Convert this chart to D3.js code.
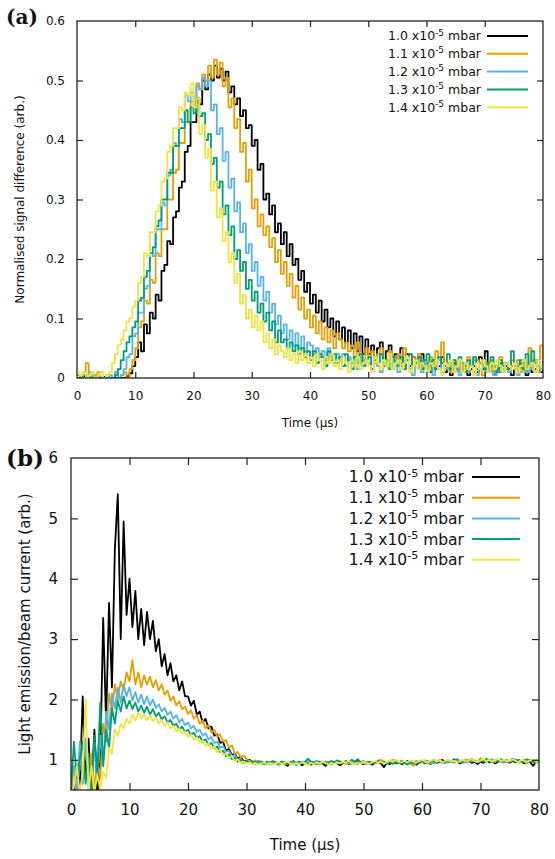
<!DOCTYPE html>
<meta charset="utf-8">
<style>
  body { margin: 0; background: #fff; }
  svg { display: block; }
  text { font-family: "DejaVu Sans", Verdana, sans-serif; fill: #111; }
  .frame { fill: none; stroke: #222; stroke-width: 1.3; }
  .tick line { stroke: #222; stroke-width: 1.2; }
  .panel-tag { font-family: "DejaVu Serif", "Liberation Serif", serif; font-weight: bold; }
</style>
<body>
<script src="https://d3js.org/d3.v7.min.js"></script>
<script>

// time axis (µs), sampled every 0.5 µs
const time = d3.range(0, 80.001, 0.5);

const labels = ["1.0", "1.1", "1.2", "1.3", "1.4"];
const colors = ["#000000", "#E69F00", "#56B4E9", "#009E73", "#F0E442"];

// ---- panel (a): normalised signal difference ----
const sigA10 = [
  0, 0, 0.003, 0, 0, 0.005, 0, 0, 0, 0.002,
  0, 0, 0, 0, -0.005, 0, 0, 0.003, 0.008, 0.02,
  0.035, 0.06, 0.045, 0.09, 0.075, 0.11, 0.1, 0.14, 0.13, 0.18,
  0.19, 0.23, 0.225, 0.27, 0.28, 0.32, 0.33, 0.38, 0.39, 0.43,
  0.43, 0.47, 0.46, 0.5, 0.485, 0.51, 0.5, 0.525, 0.505, 0.52,
  0.5, 0.515, 0.48, 0.49, 0.46, 0.47, 0.44, 0.45, 0.42, 0.425,
  0.39, 0.4, 0.35, 0.36, 0.3, 0.31, 0.275, 0.29, 0.245, 0.26,
  0.225, 0.245, 0.205, 0.225, 0.19, 0.2, 0.165, 0.18, 0.145, 0.16,
  0.125, 0.14, 0.11, 0.13, 0.095, 0.115, 0.085, 0.1, 0.07, 0.095,
  0.065, 0.085, 0.06, 0.08, 0.05, 0.075, 0.045, 0.07, 0.04, 0.065,
  0.04, 0.055, 0.035, 0.05, 0.06, 0.03, 0.045, 0.055, 0.035, 0.04,
  0.03, 0.05, 0.025, 0.04, 0.02, 0.035, 0.03, 0.015, 0.04, 0.02,
  0.025, 0.01, 0.03, 0.015, 0.02, 0.035, 0.01, 0.02, 0.005, 0.025,
  0.015, 0.01, 0.025, 0.02, 0.005, 0.015, 0.02, 0.01, 0.035, 0.015,
  0.045, 0.01, 0.02, 0.005, 0.015, 0.025, 0.01, 0.02, 0.015, 0.005,
  0.02, 0.01, 0.025, 0.015, 0.005, 0.02, 0.01, 0.015, 0.02, 0.01,
  0.015];
const sigA11 = [
  0.005, 0, 0.01, 0.025, 0, 0.005, 0, 0.01, 0, 0,
  0.005, 0, 0, 0.01, 0, 0.005, 0.01, 0, 0.015, 0.03,
  0.05, 0.085, 0.095, 0.13, 0.125, 0.165, 0.16, 0.21, 0.205, 0.25,
  0.25, 0.3, 0.3, 0.345, 0.35, 0.395, 0.395, 0.43, 0.43, 0.465,
  0.46, 0.495, 0.485, 0.51, 0.5, 0.525, 0.505, 0.535, 0.51, 0.53,
  0.49, 0.505, 0.455, 0.47, 0.42, 0.435, 0.38, 0.395, 0.33, 0.35,
  0.285, 0.3, 0.255, 0.275, 0.24, 0.255, 0.22, 0.235, 0.195, 0.215,
  0.175, 0.195, 0.155, 0.175, 0.135, 0.155, 0.115, 0.135, 0.1, 0.115,
  0.085, 0.105, 0.075, 0.095, 0.065, 0.085, 0.06, 0.08, 0.05, 0.075,
  0.065, 0.05, 0.06, 0.045, 0.055, 0.035, 0.06, 0.04, 0.03, 0.05,
  0.035, 0.045, 0.025, 0.04, 0.05, 0.03, 0.02, 0.045, 0.035, 0.025,
  0.04, 0.02, 0.05, 0.03, 0.015, 0.035, 0.025, 0.04, 0.02, 0.03,
  0.015, 0.035, 0.02, 0.045, 0.03, 0.06, 0.015, 0.025, 0.01, 0.03,
  0.02, 0.01, 0.025, 0.015, 0.035, 0.02, 0.01, 0.03, 0.015, 0.005,
  0.025, 0.015, 0.03, 0.01, 0.02, 0.035, 0.015, 0.025, 0.01, 0.03,
  0.02, 0.03, 0.01, 0.025, 0.015, 0.05, 0.02, 0.03, 0.01, 0.055,
  0.02];
const sigA12 = [
  0, 0.005, 0, 0, 0.01, 0, 0, 0.005, 0, 0,
  0, 0.005, 0, 0.01, 0, 0.005, 0.015, 0.035, 0.04, 0.07,
  0.075, 0.11, 0.11, 0.15, 0.155, 0.21, 0.205, 0.25, 0.25, 0.295,
  0.29, 0.34, 0.35, 0.395, 0.39, 0.435, 0.43, 0.475, 0.465, 0.48,
  0.47, 0.49, 0.485, 0.505, 0.49, 0.5, 0.45, 0.46, 0.41, 0.42,
  0.365, 0.38, 0.32, 0.335, 0.28, 0.295, 0.245, 0.26, 0.21, 0.225,
  0.18, 0.195, 0.155, 0.17, 0.13, 0.145, 0.11, 0.125, 0.09, 0.105,
  0.075, 0.09, 0.065, 0.08, 0.055, 0.075, 0.05, 0.07, 0.045, 0.06,
  0.055, 0.04, 0.05, 0.035, 0.045, 0.03, 0.05, 0.035, 0.025, 0.04,
  0.03, 0.04, 0.02, 0.035, 0.025, 0.03, 0.015, 0.035, 0.02, 0.03,
  0.025, 0.015, 0.035, 0.02, 0.01, 0.03, 0.02, 0.025, 0.015, 0.03,
  0.01, 0.025, 0.02, 0.03, 0.015, 0.005, 0.025, 0.02, 0.01, 0.03,
  0.015, 0.025, 0.005, 0.02, 0.03, 0.01, 0.02, 0.015, 0.025, 0.01,
  0.02, 0.005, 0.015, 0.025, 0.01, 0.02, 0.03, 0.005, 0.015, 0.02,
  0.01, 0.025, 0.015, 0.005, 0.02, 0.01, 0.025, 0.015, 0.01, 0.02,
  0.015, 0.005, 0.02, 0.025, 0.01, 0.015, 0.03, 0.01, 0.02, 0.015,
  0.02];
const sigA13 = [
  0, 0, 0.005, 0, 0, 0, 0.005, 0, 0, 0,
  0, 0, 0, 0.005, 0.015, 0.03, 0.045, 0.06, 0.07, 0.085,
  0.095, 0.13, 0.135, 0.17, 0.18, 0.21, 0.22, 0.255, 0.265, 0.3,
  0.3, 0.345, 0.345, 0.39, 0.39, 0.42, 0.42, 0.45, 0.43, 0.455,
  0.445, 0.465, 0.44, 0.445, 0.4, 0.41, 0.36, 0.37, 0.32, 0.33,
  0.275, 0.29, 0.24, 0.255, 0.2, 0.215, 0.18, 0.195, 0.15, 0.165,
  0.13, 0.145, 0.11, 0.125, 0.095, 0.11, 0.08, 0.095, 0.06, 0.08,
  0.06, 0.065, 0.05, 0.06, 0.045, 0.055, 0.04, 0.05, 0.035, 0.045,
  0.03, 0.045, 0.025, 0.04, 0.035, 0.02, 0.045, 0.03, 0.04, 0.025,
  0.035, 0.02, 0.04, 0.03, 0.015, 0.035, 0.025, 0.04, 0.02, 0.03,
  0.035, 0.015, 0.03, 0.025, 0.04, 0.02, 0.03, 0.015, 0.035, 0.025,
  0.02, 0.035, 0.015, 0.03, 0.04, 0.02, 0.025, 0.035, 0.015, 0.03,
  0.04, 0.02, 0.03, 0.015, 0.035, 0.025, 0.02, 0.04, 0.015, 0.03,
  0.02, 0.035, 0.025, 0.01, 0.03, 0.02, 0.035, 0.015, 0.025, 0.03,
  0.015, 0.025, 0.035, 0.02, 0.01, 0.03, 0.02, 0.025, 0.015, 0.045,
  0.025, 0.02, 0.03, 0.015, 0.04, 0.02, 0.045, 0.025, 0.03, 0.02,
  0.03];
const sigA14 = [
  0.01, 0.005, 0.01, 0, 0.005, 0.01, 0, 0.005, 0.01, 0,
  0.005, 0.01, 0.025, 0.04, 0.055, 0.065, 0.08, 0.095, 0.1, 0.12,
  0.13, 0.16, 0.17, 0.21, 0.205, 0.245, 0.245, 0.28, 0.29, 0.33,
  0.335, 0.38, 0.39, 0.42, 0.42, 0.455, 0.45, 0.48, 0.475, 0.495,
  0.455, 0.47, 0.41, 0.425, 0.37, 0.385, 0.315, 0.33, 0.27, 0.285,
  0.23, 0.245, 0.195, 0.21, 0.16, 0.175, 0.125, 0.14, 0.1, 0.115,
  0.085, 0.105, 0.08, 0.095, 0.06, 0.075, 0.05, 0.065, 0.04, 0.055,
  0.045, 0.035, 0.05, 0.03, 0.04, 0.025, 0.045, 0.03, 0.04, 0.025,
  0.035, 0.02, 0.04, 0.03, 0.015, 0.035, 0.025, 0.04, 0.02, 0.03,
  0.015, 0.035, 0.025, 0.01, 0.03, 0.02, 0.035, 0.015, 0.025, 0.03,
  0.02, 0.01, 0.035, 0.025, 0.015, 0.03, 0.02, 0.04, 0.015, 0.025,
  0.03, 0.015, 0.025, 0.035, 0.01, 0.02, 0.03, 0.015, 0.025, 0.02,
  0.01, 0.025, 0.02, 0.03, 0.015, 0.005, 0.025, 0.02, 0.03, 0.01,
  0.02, 0.03, 0.01, 0.025, 0.015, 0.02, 0.005, 0.025, 0.015, 0.03,
  0.02, 0.01, 0.025, 0.015, 0.03, 0.02, 0.01, 0.025, 0.02, 0.015,
  0.025, 0.01, 0.02, 0.03, 0.015, 0.02, 0.025, 0.01, 0.03, 0.02,
  0.015];

// ---- panel (b): light emission / beam current ----
const lightB10 = [
  0.3, 0.45, 0.9, 0.5, 2.05, 0.7, 1.35, 0.45, 1.5, 0.4,
  1.0, 3.35, 1.6, 3.6, 2.2, 4.5, 5.4, 3.0, 4.95, 3.4,
  4.0, 3.2, 3.8, 3.0, 3.5, 2.9, 3.45, 3.0, 3.3, 2.8,
  3.0, 2.55, 2.75, 2.4, 2.6, 2.3, 2.4, 2.15, 2.3, 2.05,
  2.05, 1.9, 1.98, 1.75, 1.8, 1.62, 1.68, 1.52, 1.55, 1.4,
  1.42, 1.28, 1.3, 1.15, 1.18, 1.08, 1.1, 1.02, 1.05, 0.98,
  0.98, 1.0, 0.96, 0.97, 0.94, 0.97, 0.95, 0.93, 0.96, 0.94,
  0.95, 0.92, 0.96, 0.94, 0.9, 0.95, 0.97, 0.93, 0.95, 0.91,
  0.94, 0.96, 0.92, 0.95, 0.93, 0.97, 0.94, 0.9, 0.95, 0.93,
  0.96, 0.94, 0.91, 0.95, 0.97, 0.93, 0.96, 0.94, 0.99, 0.95,
  0.93, 0.96, 0.94, 0.92, 0.95, 0.97, 0.94, 0.88, 0.95, 0.93,
  0.96, 0.94, 0.97, 0.93, 0.95, 0.98, 0.94, 0.96, 0.92, 0.95,
  0.97, 0.94, 0.96, 0.93, 0.99, 0.95, 0.97, 1.0, 0.95, 0.98,
  0.96, 1.01, 0.97, 0.94, 0.98, 0.96, 0.99, 0.95, 0.97, 0.93,
  0.97, 0.95, 0.99, 0.96, 0.98, 0.94, 0.97, 1.0, 0.96, 0.98,
  0.95, 0.98, 0.96, 0.99, 0.97, 0.94, 0.98, 0.96, 0.9, 0.97,
  0.96];
const lightB11 = [
  0.4, 0.9, 0.5, 1.2, 0.6, 1.3, 0.55, 1.1, 0.5, 1.0,
  0.7, 1.6, 1.3, 2.1, 1.8, 2.25, 2.0, 2.3, 2.15, 2.45,
  2.3, 2.65, 2.25, 2.45, 2.2, 2.4, 2.25, 2.38, 2.2, 2.32,
  2.15, 2.25, 2.08, 2.15, 1.98, 2.05, 1.9, 1.97, 1.84, 1.88,
  1.76, 1.82, 1.68, 1.74, 1.6, 1.65, 1.52, 1.58, 1.45, 1.5,
  1.38, 1.42, 1.3, 1.33, 1.2, 1.24, 1.1, 1.13, 1.04, 1.07,
  1.01, 0.98, 0.97, 0.99, 0.95, 0.97, 0.94, 0.96, 0.93, 0.95,
  0.96, 0.94, 0.97, 0.92, 0.95, 0.93, 0.96, 0.94, 0.97, 0.95,
  0.93, 0.96, 0.94, 0.97, 0.95, 0.92, 0.96, 0.94, 0.95, 0.93,
  0.95, 0.97, 0.94, 0.96, 0.93, 0.95, 0.98, 0.95, 0.93, 0.96,
  0.94, 0.96, 0.93, 0.97, 0.95, 0.99, 1.0, 0.96, 0.94, 0.97,
  1.0, 0.97, 0.95, 0.98, 0.96, 0.93, 0.97, 0.9, 0.95, 0.98,
  0.96, 0.99, 0.97, 0.94, 0.98, 0.96, 1.0, 0.97, 0.95, 0.98,
  0.97, 0.95, 0.99, 0.96, 0.98, 1.0, 0.97, 1.02, 0.98, 0.96,
  1.03, 0.99, 0.97, 1.01, 0.98, 0.96, 1.0, 0.98, 0.95, 0.99,
  0.97, 1.0, 0.98, 0.95, 0.99, 0.97, 0.94, 1.0, 0.97, 0.95,
  0.98];
const lightB12 = [
  0.65, 0.9, 0.5, 1.3, 0.6, 1.35, 0.7, 0.55, 1.2, 0.7,
  1.4, 0.9, 1.8, 1.5, 2.1, 1.85, 2.2, 1.95, 2.25, 2.05,
  2.2, 1.98, 2.12, 1.95, 2.08, 1.92, 2.05, 1.9, 2.0, 1.86,
  1.92, 1.8, 1.86, 1.74, 1.8, 1.68, 1.74, 1.62, 1.68, 1.57,
  1.62, 1.52, 1.56, 1.46, 1.5, 1.4, 1.44, 1.34, 1.38, 1.28,
  1.3, 1.2, 1.23, 1.13, 1.15, 1.06, 1.08, 1.0, 1.02, 0.96,
  0.96, 0.98, 0.95, 0.93, 0.96, 0.94, 0.92, 0.95, 0.93, 0.96,
  0.94, 0.92, 0.95, 0.97, 0.93, 0.96, 0.94, 0.91, 0.95, 0.97,
  0.95, 0.98, 0.94, 0.96, 0.93, 0.95, 0.97, 0.94, 0.96, 0.93,
  0.96, 0.94, 0.97, 0.95, 0.98, 0.95, 0.93, 0.96, 0.94, 0.97,
  0.95, 0.93, 0.96, 0.94, 0.97, 0.95, 0.98, 0.96, 0.94, 0.97,
  0.95, 0.98, 0.96, 0.99, 0.95, 0.97, 0.94, 0.96, 0.98, 0.95,
  0.97, 0.95, 0.98, 0.96, 0.94, 0.97, 0.99, 0.96, 0.98, 0.95,
  0.98, 0.96, 0.99, 0.97, 0.95, 0.98, 1.0, 0.97, 0.99, 0.96,
  0.98, 1.0, 0.97, 0.99, 1.01, 0.97, 0.99, 0.96, 0.98, 1.0,
  0.97, 0.99, 1.01, 0.98, 0.96, 0.99, 0.97, 1.0, 0.98, 0.96,
  0.99];
const lightB13 = [
  0.5, 1.3, 0.7, 1.0, 1.3, 0.6, 1.1, 0.5, 1.4, 0.8,
  1.95, 0.9, 1.5, 1.2, 1.85, 1.6, 1.98, 1.8, 2.05, 1.85,
  1.98, 1.84, 1.95, 1.8, 1.9, 1.78, 1.88, 1.75, 1.84, 1.72,
  1.78, 1.67, 1.72, 1.62, 1.66, 1.56, 1.6, 1.5, 1.55, 1.46,
  1.5, 1.41, 1.45, 1.36, 1.39, 1.3, 1.34, 1.25, 1.28, 1.19,
  1.22, 1.13, 1.15, 1.06, 1.09, 1.01, 1.04, 0.97, 1.0, 0.95,
  0.98, 0.96, 0.97, 0.95, 0.98, 0.96, 0.94, 0.97, 0.95, 0.98,
  0.96, 0.94, 0.97, 0.95, 0.93, 0.96, 0.98, 0.95, 0.97, 0.94,
  0.96, 1.02, 0.97, 0.95, 0.98, 0.96, 0.94, 0.97, 0.95, 0.98,
  0.96, 0.99, 0.97, 0.95, 0.98, 0.96, 1.0, 0.97, 1.01, 0.96,
  0.98, 0.95, 0.97, 0.94, 0.96, 0.98, 0.95, 0.97, 0.94, 0.96,
  0.93, 0.96, 0.94, 0.97, 0.95, 0.92, 0.96, 0.94, 0.97, 0.95,
  0.98, 0.96, 0.94, 0.97, 0.99, 0.96, 0.98, 0.95, 0.97, 0.99,
  0.97, 0.99, 1.01, 0.98, 0.96, 0.99, 0.97, 1.0, 0.98, 0.96,
  0.99, 0.97, 1.02, 0.98, 0.96, 0.99, 0.97, 1.01, 0.98, 0.96,
  0.99, 1.02, 0.98, 1.0, 0.97, 0.99, 1.01, 0.98, 0.96, 0.99,
  0.98];
const lightB14 = [
  0.4, 0.55, 0.9, 0.45, 0.8, 2.0, 0.5, 0.9, 0.45, 0.75,
  0.5, 0.8, 0.7, 1.2, 1.1, 1.5, 1.4, 1.6, 1.52, 1.68,
  1.6, 1.75, 1.65, 1.78, 1.68, 1.75, 1.66, 1.74, 1.64, 1.7,
  1.6, 1.66, 1.56, 1.62, 1.52, 1.56, 1.47, 1.52, 1.43, 1.47,
  1.38, 1.42, 1.33, 1.37, 1.28, 1.32, 1.23, 1.27, 1.18, 1.22,
  1.13, 1.17, 1.08, 1.11, 1.03, 1.06, 0.98, 1.01, 0.94, 0.97,
  0.94, 0.96, 0.93, 0.95, 0.92, 0.94, 0.96, 0.93, 0.95, 0.92,
  0.94, 0.96, 0.93, 0.95, 0.97, 0.94, 0.92, 0.95, 0.93, 0.96,
  0.94, 0.91, 0.95, 0.93, 0.96, 0.94, 0.97, 0.95, 0.92, 0.95,
  0.93, 0.96, 0.94, 0.97, 0.95, 0.98, 0.95, 0.93, 0.96, 0.94,
  0.97, 0.95, 0.93, 0.96, 0.98, 0.95, 0.97, 0.94, 0.96, 0.99,
  0.97, 1.0, 0.97, 0.95, 0.98, 0.96, 0.99, 0.97, 0.95, 0.98,
  1.0, 0.97, 0.95, 0.98, 1.01, 0.97, 0.99, 0.96, 0.98, 1.0,
  0.97, 0.99, 0.96, 0.98, 1.0, 0.97, 0.99, 1.01, 0.98, 0.96,
  0.99, 1.01, 0.98, 1.0, 0.97, 0.99, 1.02, 0.98, 1.0, 0.97,
  0.99, 1.01, 0.98, 0.96, 1.0, 0.98, 0.97, 0.99, 1.01, 0.98,
  0.97];

const seriesA = [sigA10, sigA11, sigA12, sigA13, sigA14];
const seriesB = [lightB10, lightB11, lightB12, lightB13, lightB14];

const svg = d3.select("body").append("svg")
  .attr("width", 555)
  .attr("height", 859);

function drawPanel(cfg) {
  const x = d3.scaleLinear().domain([0, 80]).range([cfg.left, cfg.right]);
  const y = d3.scaleLinear().domain(cfg.yDomain).range([cfg.bottom, cfg.top]);
  const g = svg.append("g");

  const clipId = "clip-" + cfg.tag;
  g.append("clipPath").attr("id", clipId)
    .append("rect")
    .attr("x", cfg.left).attr("y", cfg.top)
    .attr("width", cfg.right - cfg.left).attr("height", cfg.bottom - cfg.top);

  // data lines
  const line = d3.line()
    .x((d, i) => x(time[i]))
    .y(d => y(d))
    .curve(cfg.curve);
  const lines = g.append("g").attr("clip-path", `url(#${clipId})`);
  cfg.series.forEach((s, k) => {
    lines.append("path")
      .attr("d", line(s))
      .attr("fill", "none")
      .attr("stroke", colors[k])
      .attr("stroke-width", cfg.lw)
      .attr("stroke-linejoin", "round");
  });

  // axes, ticks inward and mirrored
  const tl = cfg.tickLen;
  const xTicks = d3.range(0, 81, 10);
  const yTicks = cfg.yTicks;
  const bottomAx = g.append("g").attr("transform", `translate(0,${cfg.bottom})`)
    .call(d3.axisBottom(x).tickValues(xTicks).tickSize(-tl).tickPadding(tl + 7).tickFormat(d3.format("d")));
  const topAx = g.append("g").attr("transform", `translate(0,${cfg.top})`)
    .call(d3.axisTop(x).tickValues(xTicks.slice(1, -1)).tickSize(-tl).tickFormat(""));
  const leftAx = g.append("g").attr("transform", `translate(${cfg.left},0)`)
    .call(d3.axisLeft(y).tickValues(yTicks).tickSize(-tl).tickPadding(tl + 6).tickFormat(cfg.yFormat));
  const rightAx = g.append("g").attr("transform", `translate(${cfg.right},0)`)
    .call(d3.axisRight(y).tickValues(yTicks).tickSize(-tl).tickFormat(""));
  [bottomAx, topAx, leftAx, rightAx].forEach(a => {
    a.select(".domain").remove();
    a.selectAll("text").style("font-size", cfg.fs + "px").attr("fill", "#111")
      .style("font-family", '"DejaVu Sans", Verdana, sans-serif');
  });
  // no tick marks on corners of the frame
  bottomAx.selectAll(".tick").filter(d => d === 0 || d === 80).select("line").remove();
  leftAx.selectAll(".tick").filter(d => d === cfg.yDomain[0] || d === cfg.yDomain[1]).select("line").remove();
  rightAx.selectAll(".tick").filter(d => d === cfg.yDomain[0] || d === cfg.yDomain[1]).select("line").remove();

  g.append("rect").attr("class", "frame")
    .attr("x", cfg.left).attr("y", cfg.top)
    .attr("width", cfg.right - cfg.left).attr("height", cfg.bottom - cfg.top);

  // axis titles
  g.append("text")
    .attr("x", (cfg.left + cfg.right) / 2)
    .attr("y", cfg.xTitleY)
    .attr("text-anchor", "middle")
    .style("font-size", cfg.titleFs + "px")
    .text("Time (µs)");
  g.append("text")
    .attr("transform", `translate(${cfg.yTitleX},${(cfg.top + cfg.bottom) / 2}) rotate(-90)`)
    .attr("text-anchor", "middle")
    .style("font-size", cfg.titleFs + "px")
    .text(cfg.yTitle);

  // panel tag
  g.append("text").attr("class", "panel-tag")
    .attr("x", cfg.tagX).attr("y", cfg.tagY)
    .style("font-size", cfg.tagFs + "px")
    .text(`(${cfg.tag})`);

  // legend
  const leg = g.append("g");
  labels.forEach((lab, k) => {
    const yy = cfg.legY0 + k * cfg.legDy;
    const t = leg.append("text")
      .attr("x", cfg.legTextRight).attr("y", yy)
      .attr("dy", "0.35em")
      .attr("text-anchor", "end")
      .style("font-size", cfg.legFs + "px");
    t.append("tspan").text(lab + " x10");
    t.append("tspan").attr("dy", -cfg.legFs * 0.38).style("font-size", (cfg.legFs * 0.72) + "px").text("-5");
    t.append("tspan").attr("dy", cfg.legFs * 0.38).text(" mbar");
    leg.append("line")
      .attr("x1", cfg.legLine[0]).attr("x2", cfg.legLine[1])
      .attr("y1", yy).attr("y2", yy)
      .attr("stroke", colors[k]).attr("stroke-width", 2);
  });
}

drawPanel({
  tag: "a", series: seriesA,
  left: 77, right: 543, top: 21, bottom: 378,
  yDomain: [0, 0.6], yTicks: d3.range(0, 0.61, 0.1).map(v => +v.toFixed(1)),
  yFormat: d => d === 0 ? "0" : d3.format(".1f")(d),
  curve: d3.curveStepAfter, lw: 1.8, tickLen: 6, fs: 12, titleFs: 12,
  xTitleY: 427, yTitleX: 24, yTitle: "Normalised signal difference (arb.)",
  tagX: 6, tagY: 24, tagFs: 20,
  legY0: 36, legDy: 17.8, legTextRight: 481, legLine: [487, 528], legFs: 12.5
});

drawPanel({
  tag: "b", series: seriesB,
  left: 71, right: 539, top: 458, bottom: 790,
  yDomain: [0.5, 6], yTicks: [1, 2, 3, 4, 5, 6],
  yFormat: d3.format("d"),
  curve: d3.curveLinear, lw: 1.8, tickLen: 7, fs: 15, titleFs: 15,
  xTitleY: 850, yTitleX: 30, yTitle: "Light emission/beam current (arb.)",
  tagX: 6, tagY: 466, tagFs: 23,
  legY0: 477, legDy: 20.7, legTextRight: 464, legLine: [472, 520], legFs: 15.5
});

</script>
</body>
</html>
